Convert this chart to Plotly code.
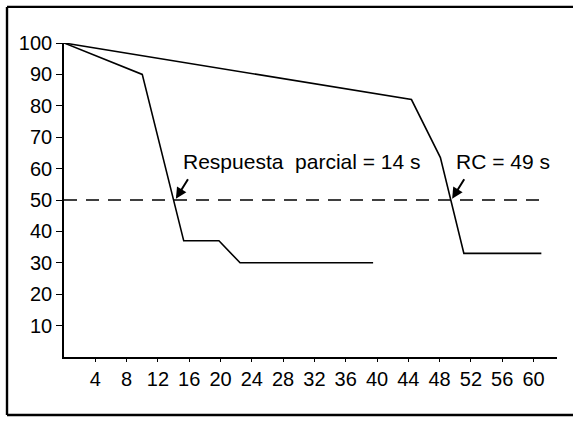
import plotly.graph_objects as go

# Data
partial_x = [0, 10, 15.3, 19.8, 22.5, 39.5]
partial_y = [100, 90, 37, 37, 30, 30]
rc_x = [0, 44.4, 48.1, 51.1, 61]
rc_y = [100, 82, 63.5, 33, 33]
threshold_x = [0, 61]
threshold_y = [50, 50]
x_ticks = [4, 8, 12, 16, 20, 24, 28, 32, 36, 40, 44, 48, 52, 56, 60]
y_ticks = [10, 20, 30, 40, 50, 60, 70, 80, 90, 100]
partial_label = "Respuesta  parcial = 14 s"
rc_label = "RC = 49 s"
partial_point = (14.3, 50.4)
rc_point = (49.6, 50.4)

FONT = "Liberation Sans, Arial, sans-serif"
line_style = dict(color="black", width=1.6)

fig = go.Figure()
fig.add_trace(go.Scatter(x=partial_x, y=partial_y, mode="lines", line=line_style,
                         showlegend=False, cliponaxis=False, hoverinfo="skip"))
fig.add_trace(go.Scatter(x=rc_x, y=rc_y, mode="lines", line=line_style,
                         showlegend=False, cliponaxis=False, hoverinfo="skip"))
fig.add_trace(go.Scatter(x=threshold_x, y=threshold_y, mode="lines",
                         line=dict(color="black", width=1.5, dash="13px,9px"),
                         showlegend=False, cliponaxis=False, hoverinfo="skip"))

# text labels
fig.add_annotation(x=14.9, y=62.3, text=partial_label, showarrow=False,
                   xanchor="left", yanchor="middle",
                   font=dict(family=FONT, size=21, color="black"))
fig.add_annotation(x=49.8, y=62.3, text=rc_label, showarrow=False,
                   xanchor="left", yanchor="middle",
                   font=dict(family=FONT, size=21, color="black"))
# arrows
for (px, py) in [partial_point, rc_point]:
    fig.add_annotation(x=px, y=py, text="", showarrow=True, ax=13, ay=-21,
                       arrowhead=2, arrowsize=1.1, arrowwidth=2, arrowcolor="black",
                       standoff=0)

# outer frame (scanned border)
L, R, T, B = -0.1156, 1.04, 1.115, -0.1847
for x0, y0, x1, y1 in [(L, B, L, T), (L, T, R, T), (L, B, R, B)]:
    fig.add_shape(type="line", xref="paper", yref="paper", x0=x0, y0=y0, x1=x1, y1=y1,
                  line=dict(color="black", width=2.4))

fig.update_layout(
    width=573, height=421,
    margin=dict(l=64, r=16, t=43, b=64),
    paper_bgcolor="white", plot_bgcolor="white",
    font=dict(family=FONT, size=20, color="black"),
    xaxis=dict(range=[0, 63], tickvals=x_ticks, ticktext=[str(v) for v in x_ticks],
               showgrid=False, zeroline=False, showline=True, linecolor="black",
               linewidth=1.6, ticks="outside", ticklen=3, tickwidth=1.2,
               tickcolor="black", tickfont=dict(size=20)),
    yaxis=dict(range=[0, 100], tickvals=y_ticks, ticktext=[str(v) for v in y_ticks],
               showgrid=False, zeroline=False, showline=True, linecolor="black",
               linewidth=1.6, ticks="outside", ticklen=6, tickwidth=1.2,
               tickcolor="black", tickfont=dict(size=20)),
)

fig.write_html("out.html", config={"displayModeBar": False},
               post_script="document.body.style.margin='0';document.body.style.padding='0';")
